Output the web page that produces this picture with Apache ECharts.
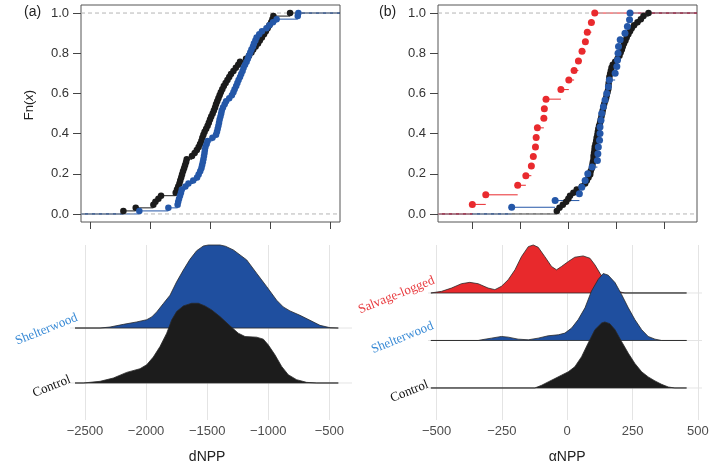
<!DOCTYPE html>
<html>
<head>
<meta charset="utf-8">
<script src="https://cdn.jsdelivr.net/npm/echarts@6/dist/echarts.min.js"></script>
<style>
  html, body { margin: 0; padding: 0; background: #fff; }
  #main { width: 709px; height: 469px; }
</style>
</head>
<body>
<div id="main"></div>
<script>
// ---- ECDF samples (sorted) ----
const dnppControl = [-2222,-2119,-1972,-1955,-1930,-1908,-1786,-1775,-1765,-1755,-1748,-1740,-1733,-1725,-1716,-1708,-1700,-1694,
  -1650,-1628,-1610,-1595,-1583,-1572,-1564,-1555,-1545,-1532,-1520,-1510,-1500,-1490,-1478,-1468,-1458,-1450,-1440,-1430,-1420,
  -1410,-1398,-1385,-1370,-1355,-1340,-1325,-1305,-1285,-1265,-1250,-1200,-1175,-1155,-1140,-1120,-1100,-1085,-1068,-1050,-1035,
  -1020,-1005,-990,-980,-972,-833];
const dnppShelter = [-2089,-1847,-1770,-1765,-1758,-1750,-1742,-1735,-1705,-1680,-1640,-1608,-1595,-1582,-1572,-1566,-1560,-1555,
  -1550,-1546,-1543,-1538,-1528,-1520,-1480,-1450,-1442,-1436,-1430,-1425,-1420,-1413,-1407,-1402,-1392,-1378,-1366,-1340,-1318,
  -1305,-1295,-1282,-1272,-1262,-1250,-1240,-1229,-1220,-1208,-1195,-1185,-1176,-1165,-1155,-1142,-1134,-1122,-1112,-1090,-1067,
  -1030,-1005,-975,-945,-769,-764];
const anppControl = [-47,-36,-22,-8,1,8,22,36,57,71,78,85,92,94,99,101,103,106,106,108,110,111,114,117,119,122,124,126,129,133,
  136,139,142,144,147,150,154,158,161,164,167,168,169,171,172,175,178,181,186,196,206,214,219,224,228,233,239,244,251,258,
  265,275,289,303,314,335];
const anppShelter = [-235,-54,47,57,71,82,100,122,124,126,131,133,133,137,140,147,154,161,168,172,196,203,206,208,210,217,237,247,256,258];
const anppSalvage = [-399,-343,-210,-176,-153,-145,-136,-133,-128,-101,-99,-92,-30,3,25,43,58,72,80,97,111];

// ---- ridge densities: x and height relative to each ridge's peak ----
const dRidgeShelterX = [-2377,-2295,-2186,-2077,-1995,-1954,-1913,-1859,-1804,-1750,-1695,-1641,-1586,-1531,-1490,-1395,-1350,-1285,
  -1176,-1095,-1013,-931,-877,-822,-740,-658,-576,-494];
const dRidgeShelterH = [0,0.012,0.044,0.073,0.1,0.133,0.194,0.294,0.395,0.556,0.698,0.827,0.931,0.988,1,1,0.985,0.94,
  0.82,0.66,0.5,0.335,0.254,0.206,0.153,0.093,0.032,0.004];
const dRidgeControlX = [-2514,-2377,-2268,-2159,-2050,-1995,-1941,-1886,-1831,-1790,-1750,-1695,-1627,-1572,-1518,-1463,-1395,-1313,
  -1245,-1190,-1095,-1040,-1000,-945,-890,-836,-768,-686,-604];
const dRidgeControlH = [0,0.021,0.0625,0.133,0.179,0.229,0.325,0.458,0.625,0.792,0.896,0.967,1,1,0.967,0.917,0.833,0.717,
  0.625,0.583,0.575,0.55,0.479,0.354,0.208,0.104,0.042,0.008,0];
const aRidgeSalvageX = [-481,-443,-405,-373,-341,-303,-277,-252,-226,-200,-175,-149,-130,-111,-86,-60,-41,-22,4,29,61,87,106,125,144,170,195,221];
const aRidgeSalvageH = [0.034,0.103,0.193,0.221,0.193,0.103,0.069,0.138,0.276,0.483,0.759,0.966,1,0.952,0.759,0.552,0.483,0.552,
  0.655,0.745,0.772,0.724,0.586,0.414,0.25,0.1,0.03,0];
const aRidgeShelterX = [-341,-328,-290,-252,-226,-188,-149,-111,-73,-34,-9,17,42,68,93,119,138,157,183,208,234,259,285,310,336,361];
const aRidgeShelterH = [0,0.01,0.035,0.06,0.05,0.02,0.01,0.035,0.07,0.085,0.11,0.186,0.312,0.487,0.739,0.915,1,0.975,0.864,
  0.688,0.487,0.312,0.161,0.06,0.02,0];
const aRidgeControlX = [-124,-98,-73,-47,-22,4,29,55,80,106,132,144,163,183,208,234,259,285,310,336,361,387,412];
const aRidgeControlH = [0,0.041,0.092,0.143,0.194,0.245,0.321,0.474,0.679,0.883,0.985,1,0.974,0.883,0.704,0.526,0.372,0.245,
  0.168,0.107,0.056,0.015,0];

// ridge peak heights in units of the row spacing, and baseline extents
const dRidgePeaks = [1.45, 1.51];        // Control, Shelterwood
const aRidgePeaks = [1.39, 1.41, 1.01];  // Control, Shelterwood, Salvage-logged
const dRidgeRange = [-2582, -426];
const aRidgeRange = [-522, 457];

// ---- layout ----
const FONT = '"Liberation Sans", Arial, sans-serif';
const SERIF = '"Liberation Serif", "Times New Roman", serif';
const col = { control: '#1b1b1b', shelter: '#2457a8', salvage: '#e92a2e' };
const fill = { control: '#1c1c1c', shelter: '#1f4f9f', salvage: '#e8292c' };
const labelCol = { control: '#111', shelter: '#3a8bd6', salvage: '#e83a3e' };

const ecdfYLim = [-0.04, 1.04];
const topA = { box: { left: 81, top: 5, width: 259, height: 217 }, xlim: [-2575, -417], xr: [-2500, -500], step: 500 };
const topB = { box: { left: 438, top: 5, width: 259, height: 217 }, xlim: [-542, 537], xr: [-400, 400], step: 200 };
const botA = { box: { left: 70, top: 245, width: 282, height: 175 }, xlim: [-2623, -314], ylim: [0.327, 3.51], xr: [-2500, -500], step: 500 };
const botB = { box: { left: 428, top: 245, width: 274, height: 175 }, xlim: [-533, 516], ylim: [0.326, 4.01], xr: [-500, 500], step: 250 };

// inner rect of a box that maps the range xr x yr
const innerRect = (box, xlim, ylim, xr, yr) => {
    const sx = box.width / (xlim[1] - xlim[0]);
    const sy = box.height / (ylim[1] - ylim[0]);
    return {
        left: box.left + (xr[0] - xlim[0]) * sx,
        width: (xr[1] - xr[0]) * sx,
        top: box.top + (ylim[1] - yr[1]) * sy,
        height: (yr[1] - yr[0]) * sy
    };
};

const grids = [];
const xAxes = [];
const yAxes = [];
const series = [];
const minus = v => String(v).replace('-', '\u2212');

const hiddenAxis = (gi, lim) => ({ gridIndex: gi, type: 'value', min: lim[0], max: lim[1], show: false,
    axisLine: { show: false, onZero: false } });

// top ECDF panel: plot grid (box) + tick grid
const addTopPanel = (p) => {
    const gi = grids.length;
    grids.push(Object.assign({ show: true, borderColor: '#555', borderWidth: 1, backgroundColor: 'transparent',
        outerBoundsMode: 'none', containLabel: false }, p.box));
    xAxes.push(hiddenAxis(gi, p.xlim));
    yAxes.push(hiddenAxis(gi, ecdfYLim));
    const r = innerRect(p.box, p.xlim, ecdfYLim, p.xr, [0, 1]);
    grids.push(Object.assign({ show: false, outerBoundsMode: 'none', containLabel: false }, r));
    xAxes.push({
        gridIndex: gi + 1, type: 'value', min: p.xr[0], max: p.xr[1], interval: p.step, position: 'bottom',
        offset: p.box.top + p.box.height - (r.top + r.height),
        axisLine: { show: false, onZero: false }, axisLabel: { show: false }, splitLine: { show: false },
        axisTick: { show: true, length: 7, lineStyle: { color: '#444', width: 1 } }
    });
    yAxes.push({
        gridIndex: gi + 1, type: 'value', min: 0, max: 1, interval: 0.2, position: 'left',
        offset: r.left - p.box.left,
        axisLine: { show: false, onZero: false }, splitLine: { show: false },
        axisTick: { show: true, length: 8, lineStyle: { color: '#444', width: 1 } },
        axisLabel: { margin: 12, fontFamily: FONT, fontSize: 13, color: '#333', formatter: v => v.toFixed(1) }
    });
    return gi;
};

const addEcdf = (gi, values, color, xlim, size) => {
    const n = values.length;
    const segs = [[xlim[0], values[0], 0]];
    values.forEach((v, i) => segs.push([v, i < n - 1 ? values[i + 1] : xlim[1], (i + 1) / n]));
    series.push({
        type: 'custom', xAxisIndex: gi, yAxisIndex: gi, data: segs, silent: true, animation: false,
        encode: { x: [0, 1], y: 2 },
        renderItem: (params, api) => {
            const a = api.coord([api.value(0), api.value(2)]);
            const b = api.coord([api.value(1), api.value(2)]);
            return { type: 'line', shape: { x1: a[0], y1: a[1], x2: b[0], y2: b[1] }, style: { stroke: color, lineWidth: 1 } };
        }
    });
    series.push({
        type: 'scatter', xAxisIndex: gi, yAxisIndex: gi, symbolSize: size, silent: true, animation: false,
        itemStyle: { color: color, opacity: 1 },
        data: values.map((v, i) => [v, (i + 1) / n])
    });
};

const addDashes = (gi, xlim) => {
    series.push({
        type: 'custom', xAxisIndex: gi, yAxisIndex: gi, data: [[xlim[0], 0], [xlim[0], 1]], silent: true, animation: false,
        renderItem: (params, api) => {
            const a = api.coord([xlim[0], api.value(1)]);
            const b = api.coord([xlim[1], api.value(1)]);
            return { type: 'line', shape: { x1: a[0], y1: a[1], x2: b[0], y2: b[1] },
                style: { stroke: '#b5b5b5', lineWidth: 1, lineDash: [4, 3] } };
        }
    });
};

// bottom ridge panel: ridge grid + axis grid
const addBottomPanel = (p, name) => {
    const gi = grids.length;
    grids.push(Object.assign({ show: false, outerBoundsMode: 'none', containLabel: false }, p.box));
    xAxes.push(hiddenAxis(gi, p.xlim));
    yAxes.push(hiddenAxis(gi, p.ylim));
    const r = innerRect(p.box, p.xlim, p.ylim, p.xr, p.ylim);
    grids.push(Object.assign({ show: false, outerBoundsMode: 'none', containLabel: false }, r));
    xAxes.push({
        gridIndex: gi + 1, type: 'value', min: p.xr[0], max: p.xr[1], interval: p.step, position: 'bottom',
        axisLine: { show: false, onZero: false }, axisTick: { show: false },
        splitLine: { show: true, lineStyle: { color: '#e4e4e4', width: 1 } },
        axisLabel: { margin: 5, fontFamily: FONT, fontSize: 13, color: '#4d4d4d', formatter: minus },
        name: name, nameLocation: 'middle', nameGap: 30,
        nameTextStyle: { fontFamily: FONT, fontSize: 14, color: '#222' }
    });
    yAxes.push({ gridIndex: gi + 1, type: 'value', min: 0, max: 1, show: false, axisLine: { show: false, onZero: false } });
    return gi;
};

const addRowLines = (gi, rows, xlim) => {
    series.push({
        type: 'custom', xAxisIndex: gi, yAxisIndex: gi, data: rows.map(k => [xlim[0], k]), silent: true, animation: false, z: 1,
        renderItem: (params, api) => {
            const a = api.coord([xlim[0], api.value(1)]);
            const b = api.coord([xlim[1], api.value(1)]);
            return { type: 'line', shape: { x1: a[0], y1: a[1], x2: b[0], y2: b[1] }, style: { stroke: '#e4e4e4', lineWidth: 1 } };
        }
    });
};

const addRidge = (gi, xs, hs, peak, base, range, color) => {
    const pts = [[range[0], base]].concat(xs.map((x, i) => [x, base + hs[i] * peak]), [[range[1], base]]);
    series.push({
        type: 'custom', xAxisIndex: gi, yAxisIndex: gi, data: [[range[0], base]], silent: true, animation: false,
        renderItem: (params, api) => ({
            type: 'polygon',
            shape: { points: pts.map(p => api.coord(p)) },
            style: { fill: color, stroke: '#2a2a2a', lineWidth: 0.8 }
        })
    });
};

// panel (a) top
const gTA = addTopPanel(topA);
addEcdf(gTA, dnppControl, col.control, topA.xlim, 6.5);
addEcdf(gTA, dnppShelter, col.shelter, topA.xlim, 6.5);
addDashes(gTA, topA.xlim);

// panel (b) top
const gTB = addTopPanel(topB);
addEcdf(gTB, anppControl, col.control, topB.xlim, 6.5);
addEcdf(gTB, anppShelter, col.shelter, topB.xlim, 7);
addEcdf(gTB, anppSalvage, col.salvage, topB.xlim, 7);
addDashes(gTB, topB.xlim);

// panel (a) bottom: rows Control = 1, Shelterwood = 2
const gBA = addBottomPanel(botA, 'dNPP');
addRowLines(gBA, [1, 2], botA.xlim);
addRidge(gBA, dRidgeShelterX, dRidgeShelterH, dRidgePeaks[1], 2, dRidgeRange, fill.shelter);
addRidge(gBA, dRidgeControlX, dRidgeControlH, dRidgePeaks[0], 1, dRidgeRange, fill.control);

// panel (b) bottom: rows Control = 1, Shelterwood = 2, Salvage-logged = 3
const gBB = addBottomPanel(botB, '\u03b1NPP');
addRowLines(gBB, [1, 2, 3], botB.xlim);
addRidge(gBB, aRidgeSalvageX, aRidgeSalvageH, aRidgePeaks[2], 3, aRidgeRange, fill.salvage);
addRidge(gBB, aRidgeShelterX, aRidgeShelterH, aRidgePeaks[1], 2, aRidgeRange, fill.shelter);
addRidge(gBB, aRidgeControlX, aRidgeControlH, aRidgePeaks[0], 1, aRidgeRange, fill.control);

const chart = echarts.init(document.getElementById('main'), null, { renderer: 'canvas' });
chart.setOption({
    animation: false,
    backgroundColor: '#fff',
    grid: grids,
    xAxis: xAxes,
    yAxis: yAxes,
    series: series
});

// panel tags and the ECDF axis title
const graphics = [
    { type: 'text', x: 24, y: 12, style: { text: '(a)', font: '14px ' + FONT, fill: '#222', verticalAlign: 'middle' } },
    { type: 'text', x: 379, y: 12, style: { text: '(b)', font: '14px ' + FONT, fill: '#222', verticalAlign: 'middle' } },
    {
        type: 'text', x: 29, y: 105, rotation: Math.PI / 2,
        style: {
            text: '{n|Fn(}{i|x}{n|)}', align: 'center', verticalAlign: 'middle', fill: '#222',
            font: '13px ' + FONT,
            rich: {
                n: { fontFamily: FONT, fontSize: 13, fill: '#222' },
                i: { fontFamily: FONT, fontSize: 13, fontStyle: 'italic', fill: '#222' }
            }
        }
    }
];

// row labels, anchored to the left end of each ridge baseline
const rowLabels = [
    { gi: gBA, text: 'Shelterwood', row: 2, x0: dRidgeRange[0], color: labelCol.shelter, dx: 2, dy: -11 },
    { gi: gBA, text: 'Control', row: 1, x0: dRidgeRange[0], color: labelCol.control, dx: -5, dy: -4 },
    { gi: gBB, text: 'Salvage-logged', row: 3, x0: aRidgeRange[0], color: labelCol.salvage, dx: 3, dy: -13 },
    { gi: gBB, text: 'Shelterwood', row: 2, x0: aRidgeRange[0], color: labelCol.shelter, dx: 2, dy: -15 },
    { gi: gBB, text: 'Control', row: 1, x0: aRidgeRange[0], color: labelCol.control, dx: -3, dy: -4 }
];
rowLabels.forEach(l => {
    const p = chart.convertToPixel({ xAxisIndex: l.gi, yAxisIndex: l.gi }, [l.x0, l.row]);
    graphics.push({
        type: 'text', x: p[0] + l.dx, y: p[1] + l.dy, rotation: 22 * Math.PI / 180,
        style: { text: l.text, font: '13px ' + SERIF, fill: l.color, align: 'right', verticalAlign: 'middle' }
    });
});
chart.setOption({ graphic: graphics });
</script>
</body>
</html>
